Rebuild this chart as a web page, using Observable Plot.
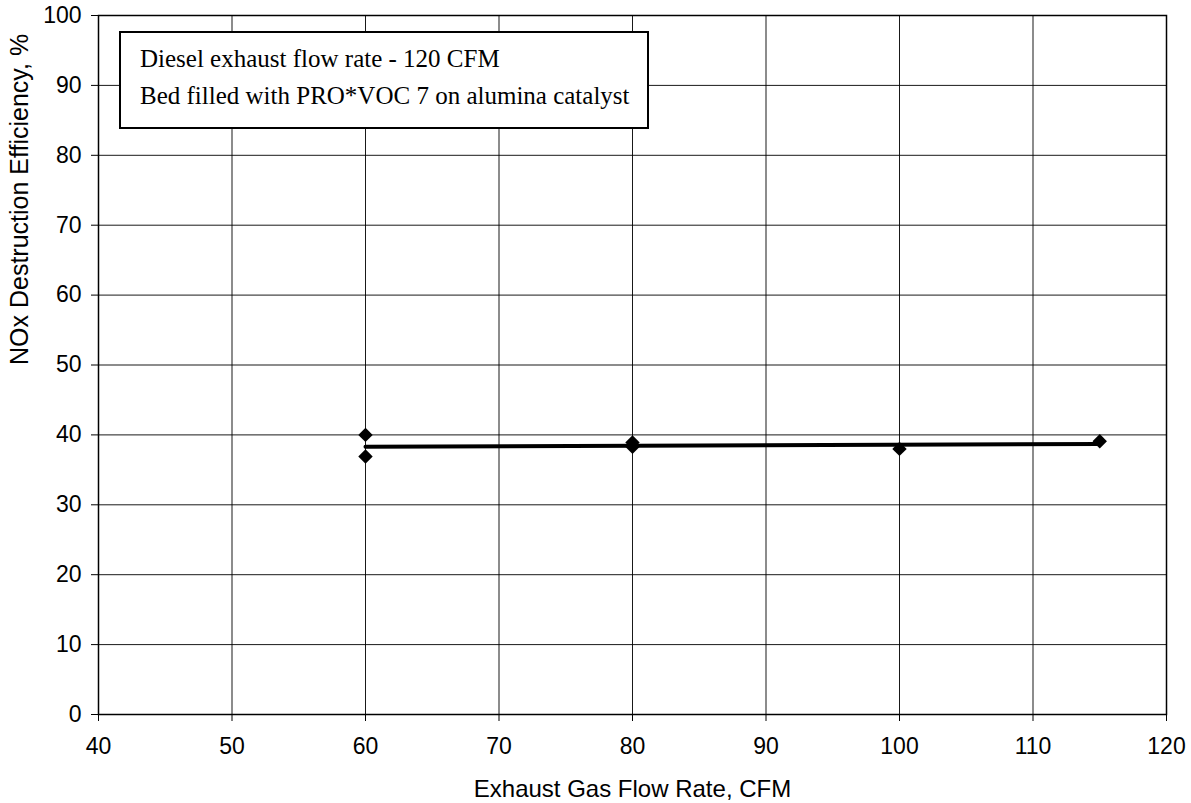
<!DOCTYPE html>
<html>
<head>
<meta charset="utf-8">
<script src="https://cdn.jsdelivr.net/npm/d3@7"></script>
<script src="https://cdn.jsdelivr.net/npm/@observablehq/plot@0.6"></script>
<style>
  html, body { margin: 0; padding: 0; background: #fff; }
  #wrap { position: relative; width: 1191px; height: 803px; }
  #note {
    position: absolute; left: 119px; top: 31px; width: 530px; height: 98px;
    border: 2px solid #000; background: #fff; box-sizing: border-box;
    font-family: "Liberation Serif", "Times New Roman", serif; font-size: 25px; color: #000;
  }
  #note div { position: absolute; left: 19px; white-space: nowrap; line-height: 29px; }
</style>
</head>
<body>
<div id="wrap">
  <div id="chart"></div>
  <div id="note">
    <div style="top:11px">Diesel exhaust flow rate - 120 CFM</div>
    <div style="top:48px">Bed filled with PRO*VOC 7 on alumina catalyst</div>
  </div>
</div>
<script>
const flowRate = [60, 60, 80, 80, 100, 115];
const efficiency = [40, 36.9, 38.3, 38.9, 38.0, 39.1];
const trendX = [60, 115];
const trendY = [38.3, 38.7];
const xTicks = [40, 50, 60, 70, 80, 90, 100, 110, 120];
const yTicks = [0, 10, 20, 30, 40, 50, 60, 70, 80, 90, 100];
const xLabel = "Exhaust Gas Flow Rate, CFM";
const yLabel = "NOx Destruction Efficiency, %";

const points = flowRate.map((x, i) => ({x, y: efficiency[i]}));
const trend = trendX.map((x, i) => ({x, y: trendY[i]}));

const chart = Plot.plot({
  width: 1191,
  height: 803,
  marginLeft: 98,
  marginRight: 25,
  marginTop: 15,
  marginBottom: 89,
  style: {fontFamily: "'Liberation Sans', Arial, sans-serif", fontSize: "23px", color: "#000", background: "#fff"},
  x: {domain: [40, 120], ticks: xTicks, label: null},
  y: {domain: [0, 100], ticks: yTicks, label: null},
  marks: [
    Plot.gridX(xTicks, {stroke: "#000", strokeOpacity: 0.9, strokeWidth: 1}),
    Plot.gridY(yTicks, {stroke: "#000", strokeOpacity: 0.9, strokeWidth: 1}),
    Plot.frame({stroke: "#000", strokeWidth: 1.5}),
    Plot.axisX(xTicks, {tickSize: 7, tickPadding: 16, fontSize: 23, label: null}),
    Plot.axisY(yTicks, {tickSize: 7, tickPadding: 10, fontSize: 23, label: null}),
    Plot.text([xLabel], {frameAnchor: "bottom", dy: 75, fontSize: 24, lineAnchor: "middle", text: d => d}),
    Plot.text([yLabel], {frameAnchor: "left", dx: -79, rotate: -90, fontSize: 25, text: d => d}),
    Plot.line(trend, {x: "x", y: "y", stroke: "#000", strokeWidth: 4}),
    Plot.dot(points, {x: "x", y: "y", symbol: "diamond2", r: 6.5, fill: "#000", stroke: "none"})
  ]
});
document.getElementById("chart").appendChild(chart);
</script>
</body>
</html>
